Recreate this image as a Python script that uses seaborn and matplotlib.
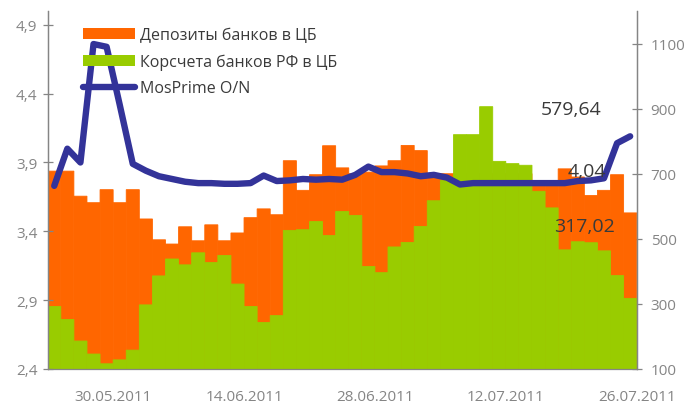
import matplotlib
matplotlib.use("Agg")
import matplotlib.pyplot as plt
from matplotlib.patches import Patch
from matplotlib.lines import Line2D
import seaborn as sns
import numpy as np

# daily values (bln rub, right axis; MosPrime %, left axis)
deposits = [708, 708, 631, 611, 651, 611, 651, 561, 497, 484,
            537, 494, 543, 494, 518, 565, 592, 574, 740, 649,
            697, 786, 718, 700, 705, 724, 740, 787, 771, 700,
            700, 700, 700, 700, 700, 700, 700, 670, 670, 715,
            690, 633, 649, 697, 579.64]
korschet = [292, 252, 186, 146, 116, 128, 158, 297, 386, 438,
            420, 457, 427, 449, 361, 292, 243, 264, 526, 528,
            553, 510, 584, 572, 415, 396, 475, 489, 538, 617,
            679, 820, 820, 906, 738, 731, 726, 646, 595, 466,
            491, 488, 463, 387, 317.02]
mosprime = [3.73, 4.00, 3.90, 4.76, 4.74, 4.32, 3.89, 3.84, 3.80, 3.78,
            3.76, 3.75, 3.75, 3.745, 3.745, 3.75, 3.805, 3.765, 3.77, 3.78,
            3.775, 3.78, 3.775, 3.81, 3.87, 3.83, 3.83, 3.82, 3.80, 3.81,
            3.79, 3.74, 3.75, 3.75, 3.75, 3.75, 3.75, 3.75, 3.75, 3.75,
            3.765, 3.77, 3.785, 4.04, 4.09]
date_labels = ["30.05.2011", "14.06.2011", "28.06.2011", "12.07.2011", "26.07.2011"]
rate_ticks = [2.4, 2.9, 3.4, 3.9, 4.4, 4.9]
volume_ticks = [100, 300, 500, 700, 900, 1100]

ORANGE = "#ff6600"
GREEN = "#99cc00"
BLUE = "#333399"
GREY = "#858585"
DARK = "#3a3a3a"

sns.set_style("white")
plt.rcParams["font.family"] = ["Open Sans", "DejaVu Sans"]

fig = plt.figure(figsize=(6.89, 4.06), dpi=100)
ax = fig.add_axes([47.7 / 689, 36 / 406, 589 / 689, 358 / 406])

x = np.arange(len(deposits)) + 0.5
sns.barplot(x=x, y=deposits, native_scale=True, width=1, color=ORANGE, saturation=1,
            edgecolor=ORANGE, linewidth=0.6, errorbar=None, ax=ax)
sns.barplot(x=x, y=korschet, native_scale=True, width=1, color=GREEN, saturation=1,
            edgecolor=GREEN, linewidth=0.6, errorbar=None, ax=ax)
for p in ax.patches:
    p.set_snap(False)  # no 1px seams between neighbouring bars
ax.set_xlim(0, len(deposits))
ax.set_ylim(100, 1200)

ax2 = ax.twinx()
sns.lineplot(x=x, y=mosprime, color=BLUE, linewidth=4.6, ax=ax2,
             solid_capstyle="round", solid_joinstyle="round")
ax2.set_ylim(2.4, 5.0)

# axes: rate on the left, volumes on the right
ax.yaxis.tick_right()
ax2.yaxis.tick_left()
ax.set_yticks(volume_ticks)
ax.set_yticklabels([str(v) for v in volume_ticks])
ax2.set_yticks(rate_ticks)
ax2.set_yticklabels([f"{v:.1f}".replace(".", ",") for v in rate_ticks])

xt = list(range(0, len(deposits) + 1, 5))
labels = {5: date_labels[0], 15: date_labels[1], 25: date_labels[2],
          35: date_labels[3], 45: date_labels[4]}
ax.set_xticks(xt)
ax.set_xticklabels([labels.get(t, "") for t in xt])

for a in (ax, ax2):
    a.set_xlabel("")
    a.set_ylabel("")
    for s in a.spines.values():
        s.set_color(GREY)
        s.set_linewidth(0.9)
    a.spines["top"].set_visible(False)
ax2.spines["bottom"].set_visible(False)

ax.tick_params(axis="x", direction="out", length=4, width=0.9, color=GREY,
               labelcolor=GREY, labelsize=11, pad=10.5)
ax.tick_params(axis="y", direction="inout", length=7, width=0.9, color=GREY,
               labelcolor=GREY, labelsize=11, pad=6.5)
ax2.tick_params(axis="y", direction="inout", length=7, width=0.9, color=GREY,
                labelcolor=GREY, labelsize=11, pad=4)

# value labels
fmt = lambda v: f"{v:.2f}".replace(".", ",")
ax2.text(39.96, 900, fmt(deposits[-1]), transform=ax.transData, ha="center",
         va="center", fontsize=14, color=DARK, zorder=10)
ax2.text(41.2, 709, fmt(mosprime[-2]), transform=ax.transData, ha="center",
         va="center", fontsize=14, color=DARK, zorder=10)
ax2.text(40.99, 540, fmt(korschet[-1]), transform=ax.transData, ha="center",
         va="center", fontsize=14, color=DARK, zorder=10)

handles = [Patch(facecolor=ORANGE, edgecolor="none"),
           Patch(facecolor=GREEN, edgecolor="none"),
           Line2D([], [], color=BLUE, linewidth=4.6, solid_capstyle="round")]
leg = ax2.legend(handles, ["Депозиты банков в ЦБ", "Корсчета банков РФ в ЦБ", "MosPrime O/N"],
                 loc="upper left", bbox_to_anchor=(83 / 689, 1 - 28 / 406),
                 bbox_transform=fig.transFigure, frameon=False, fontsize=11.5,
                 handlelength=3.25, handleheight=0.7, handletextpad=0.3,
                 labelspacing=0.66, borderpad=0, borderaxespad=0)
for t in leg.get_texts():
    t.set_color(DARK)

fig.savefig("out.png", dpi=100)
